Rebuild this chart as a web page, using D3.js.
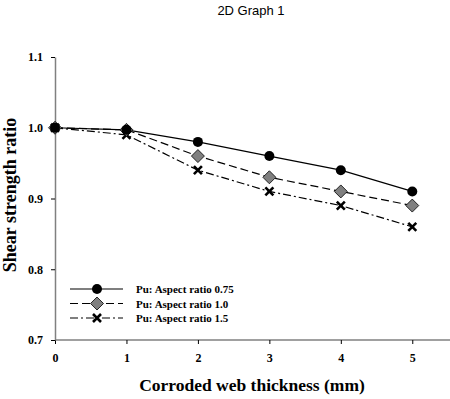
<!DOCTYPE html>
<html>
<head>
<meta charset="utf-8">
<script src="https://d3js.org/d3.v7.min.js"></script>
<style>
  body { margin: 0; background: #fff; }
</style>
</head>
<body>
<div id="chart"></div>
<script>
// size of the svg
var svgWidth = 450;
var svgHeight = 399;

// data
var thickness = [0, 1, 2, 3, 4, 5];
var ratio075 = [1.0, 0.997, 0.98, 0.96, 0.94, 0.91];
var ratio10 = [1.0, 0.997, 0.96, 0.93, 0.91, 0.89];
var ratio15 = [1.0, 0.99, 0.94, 0.91, 0.89, 0.86];
var seriesNames = ["Pu: Aspect ratio 0.75", "Pu: Aspect ratio 1.0", "Pu: Aspect ratio 1.5"];
var xTicks = [0, 1, 2, 3, 4, 5];
var yTicks = [0.7, 0.8, 0.9, 1.0, 1.1];

var margin = { top: 57, right: 0, bottom: 59, left: 55 };
var width = svgWidth - margin.left - margin.right;
var height = svgHeight - margin.top - margin.bottom;

var svg = d3.select("#chart")
  .append("svg")
  .attr("width", svgWidth)
  .attr("height", svgHeight);

var chartGroup = svg.append("g")
  .attr("transform", `translate(${margin.left}, ${margin.top})`);

var xScale = d3.scaleLinear().domain([0, 5.5]).range([0, width - 2]);
var yScale = d3.scaleLinear().domain([0.7, 1.1]).range([height, 0]);

// axes
var bottomAxis = d3.axisBottom(xScale).tickValues(xTicks).tickSize(4).tickSizeOuter(0).tickPadding(9).tickFormat(d3.format("d"));
var leftAxis = d3.axisLeft(yScale).tickValues(yTicks).tickSize(4).tickSizeOuter(0).tickPadding(8).tickFormat(d3.format(".1f"));

var xAxis = chartGroup.append("g")
  .attr("transform", `translate(0, ${height})`)
  .call(bottomAxis);
var yAxis = chartGroup.append("g").call(leftAxis);

[xAxis, yAxis].forEach(ax => {
  ax.select(".domain").attr("stroke", "#808080").attr("stroke-width", 1.5);
  ax.selectAll(".tick line").attr("stroke", "#000");
  ax.selectAll(".tick text")
    .style("font-family", "Liberation Serif, Times New Roman, serif")
    .style("font-weight", "bold")
    .style("font-size", "12px")
    .attr("fill", "#000");
});
xAxis.select(".domain").attr("d", `M0,0H${width}`);

var series = [
  { name: seriesNames[0], values: ratio075, dash: null, marker: "circle" },
  { name: seriesNames[1], values: ratio10, dash: "8,4", marker: "diamond" },
  { name: seriesNames[2], values: ratio15, dash: "8,3,2,3", marker: "cross" }
];

var line = d3.line()
  .x((d, i) => xScale(thickness[i]))
  .y(d => yScale(d));

function drawMarker(g, type, x, y) {
  if (type === "circle") {
    g.append("circle").attr("cx", x).attr("cy", y).attr("r", 5).attr("fill", "#000");
  } else if (type === "diamond") {
    g.append("path")
      .attr("d", `M${x},${y - 6.5}L${x + 6.5},${y}L${x},${y + 6.5}L${x - 6.5},${y}Z`)
      .attr("fill", "#808080").attr("stroke", "#000").attr("stroke-width", 0.8);
  } else {
    g.append("path")
      .attr("d", `M${x - 4},${y - 4}L${x + 4},${y + 4}M${x - 4},${y + 4}L${x + 4},${y - 4}`)
      .attr("stroke", "#000").attr("stroke-width", 2.6);
  }
}

// lines first, then markers
series.slice().reverse().forEach(s => {
  chartGroup.append("path")
    .datum(s.values)
    .attr("d", line)
    .attr("fill", "none")
    .attr("stroke", "#000")
    .attr("stroke-width", 1.2)
    .attr("stroke-dasharray", s.dash);
});
series.slice().reverse().forEach(s => {
  var mg = chartGroup.append("g");
  s.values.forEach((v, i) => drawMarker(mg, s.marker, xScale(thickness[i]), yScale(v)));
});

// legend
var legend = svg.append("g").attr("transform", "translate(70, 289)");
series.forEach((s, i) => {
  var row = legend.append("g").attr("transform", `translate(0, ${i * 14.5})`);
  row.append("line")
    .attr("x1", 0).attr("x2", 53).attr("y1", 0).attr("y2", 0)
    .attr("stroke", "#000").attr("stroke-width", 1.2)
    .attr("stroke-dasharray", s.dash);
  drawMarker(row, s.marker, 27, 0);
  row.append("text")
    .attr("x", 66).attr("y", 4)
    .style("font-family", "Liberation Serif, Times New Roman, serif")
    .style("font-weight", "bold")
    .style("font-size", "11px")
    .text(s.name);
});

// title and axis labels
svg.append("text")
  .attr("x", 251).attr("y", 15)
  .attr("text-anchor", "middle")
  .style("font-family", "Liberation Sans, Arial, sans-serif")
  .style("font-size", "13px")
  .text("2D Graph 1");

svg.append("text")
  .attr("x", 252).attr("y", 391)
  .attr("text-anchor", "middle")
  .style("font-family", "Liberation Serif, Times New Roman, serif")
  .style("font-weight", "bold")
  .style("font-size", "17.5px")
  .text("Corroded web thickness (mm)");

svg.append("text")
  .attr("transform", "rotate(-90)")
  .attr("x", -195).attr("y", 16)
  .attr("text-anchor", "middle")
  .style("font-family", "Liberation Serif, Times New Roman, serif")
  .style("font-weight", "bold")
  .style("font-size", "18px")
  .text("Shear strength ratio");
</script>
</body>
</html>
